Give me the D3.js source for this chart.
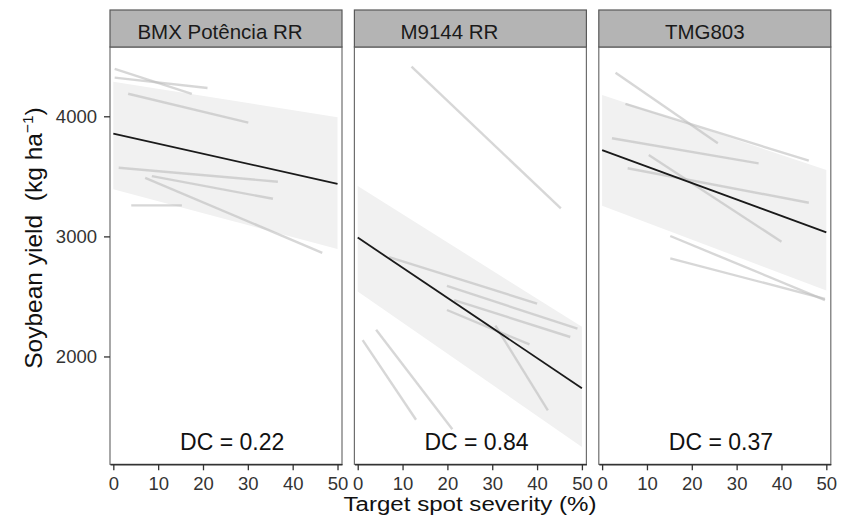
<!DOCTYPE html>
<html>
<head>
<meta charset="utf-8">
<script src="https://cdn.jsdelivr.net/npm/d3@7"></script>
<style>
  body { margin: 0; background: #fff; }
  svg { font-family: "Liberation Sans", Arial, sans-serif; }
</style>
</head>
<body>
<svg id="yieldChart" width="844" height="525"></svg>
<script>
// facets
const cultivars = ['BMX Potência RR', 'M9144 RR', 'TMG803'];
const dcValues = [0.22, 0.84, 0.37];
const xTicks = [0, 10, 20, 30, 40, 50];
const yTicks = [2000, 3000, 4000];

// overall fit, yield at severity 0 and at 50
const fitAt0 = [3855, 2990, 3719];
const fitAt50 = [3437, 1736, 3033];
// shaded band around the fit
const bandUpper0 = [4288, 3419, 4178];
const bandUpper50 = [3992, 2247, 3553];
const bandLower0 = [3392, 2540, 3255];
const bandLower50 = [2895, 1247, 2550];

// single trial fits: [severity start, yield start, severity end, yield end]
const bmxTrials = [
    [0.3, 4394, 17.5, 4186],
    [0.3, 4322, 21, 4236],
    [3.3, 4188, 30.1, 3947],
    [1.2, 3572, 36.7, 3455],
    [8.6, 3502, 35.6, 3313],
    [7.1, 3488, 46.6, 2863],
    [4, 3258, 15.3, 3258]
];
const m9144Trials = [
    [12, 4413, 45.3, 3233],
    [7, 2828, 40, 2440],
    [19.9, 2587, 49, 2232],
    [21.5, 2470, 47.4, 2162],
    [19.9, 2387, 38.3, 2100],
    [30.7, 2257, 42.4, 1551],
    [1.1, 2136, 13, 1473],
    [4.1, 2222, 21.1, 1394]
];
const tmgTrials = [
    [3, 4363, 25.8, 3775],
    [5.2, 4103, 46.1, 3630],
    [2.2, 3817, 34.9, 3608],
    [10.4, 3678, 40, 2955],
    [5.7, 3567, 46.1, 3280],
    [15.2, 3003, 49.7, 2470],
    [15.2, 2817, 49.7, 2480]
];
const trials = [bmxTrials, m9144Trials, tmgTrials];

let svg, panelW, innerH;

document.addEventListener('DOMContentLoaded', function () {
    svg = d3.select('#yieldChart');
    drawChart();
});

function drawChart()
{
    const firstLeft = 110, step = 244.4;
    const stripTop = 10, panelTop = 47, panelBottom = 464.3;
    const stripOffset = [-6, -21, -10]; // strip labels sit a bit left of centre
    panelW = 232;
    innerH = panelBottom - panelTop;

    const xScale = d3.scaleLinear().domain([-0.74, 51]).range([0, panelW]);
    const yScale = d3.scaleLinear().domain([1102, 4577]).range([innerH, 0]);

    const area = d3.area()
        .x(d => xScale(d.x))
        .y0(d => yScale(d.lo))
        .y1(d => yScale(d.hi));
    const line = d3.line()
        .x(d => xScale(d.x))
        .y(d => yScale(d.y));

    cultivars.forEach((name, i) => {
        const g = svg.append('g')
            .attr('transform', `translate(${firstLeft + i * step},${panelTop})`);

        // band
        g.append('path')
            .datum([{x: 0, lo: bandLower0[i], hi: bandUpper0[i]}, {x: 50, lo: bandLower50[i], hi: bandUpper50[i]}])
            .attr('d', area)
            .attr('fill', '#f1f1f1');

        // trial lines
        g.selectAll('line.trial')
            .data(trials[i])
            .join('line')
            .attr('class', 'trial')
            .attr('x1', d => xScale(d[0]))
            .attr('y1', d => yScale(d[1]))
            .attr('x2', d => xScale(d[2]))
            .attr('y2', d => yScale(d[3]))
            .attr('stroke', '#bdbdbd')
            .attr('stroke-opacity', 0.6)
            .attr('stroke-width', 2.4);

        // overall fit
        g.append('path')
            .datum([{x: 0, y: fitAt0[i]}, {x: 50, y: fitAt50[i]}])
            .attr('d', line)
            .attr('fill', 'none')
            .attr('stroke', '#1a1a1a')
            .attr('stroke-width', 1.8);

        g.append('text')
            .attr('x', xScale(26.5))
            .attr('y', 403)
            .attr('text-anchor', 'middle')
            .style('font-size', '23px')
            .attr('fill', '#111')
            .text('DC = ' + dcValues[i].toFixed(2));

        // panel border
        g.append('rect')
            .attr('width', panelW)
            .attr('height', innerH)
            .attr('fill', 'none')
            .attr('stroke', '#6e6e6e')
            .attr('stroke-width', 1.2);

        // x axis
        const xa = g.append('g')
            .attr('class', 'axis')
            .attr('transform', `translate(0,${innerH})`)
            .call(d3.axisBottom(xScale).tickValues(xTicks).tickSize(6).tickSizeOuter(0).tickPadding(7));
        xa.select('.domain').attr('stroke', '#333').attr('stroke-width', 1.4);
        xa.selectAll('.tick line').attr('stroke', '#333').attr('stroke-width', 1.3);

        // strip
        g.append('rect')
            .attr('y', stripTop - panelTop)
            .attr('width', panelW)
            .attr('height', panelTop - stripTop)
            .attr('fill', '#b4b4b4')
            .attr('stroke', '#595959')
            .attr('stroke-width', 1.2);
        g.append('text')
            .attr('x', panelW / 2 + stripOffset[i])
            .attr('y', 39 - panelTop)
            .attr('text-anchor', 'middle')
            .style('font-size', '20.5px')
            .attr('fill', '#1a1a1a')
            .text(name);

        if (i === 0) {
            const ya = g.append('g')
                .attr('class', 'axis')
                .call(d3.axisLeft(yScale).tickValues(yTicks).tickFormat(d3.format('d'))
                    .tickSize(6).tickSizeOuter(0).tickPadding(7));
            ya.select('.domain').remove();
            ya.selectAll('.tick line').attr('stroke', '#333').attr('stroke-width', 1.3);
        }
    });

    // tick label text, set once all axes exist
    svg.selectAll('.axis')
        .attr('font-size', null)
        .attr('font-family', null);
    svg.selectAll('.axis .tick text')
        .style('font-size', '18.5px')
        .style('font-family', '"Liberation Sans", Arial, sans-serif')
        .style('fill', '#333');

    // axis titles
    svg.append('text')
        .attr('x', 470)
        .attr('y', 511)
        .attr('text-anchor', 'middle')
        .style('font-size', '20px')
        .attr('textLength', 253)
        .attr('lengthAdjust', 'spacingAndGlyphs')
        .attr('fill', '#111')
        .text('Target spot severity (%)');

    const yt = svg.append('text')
        .attr('transform', 'translate(42,238) rotate(-90)')
        .attr('text-anchor', 'middle')
        .style('font-size', '24.5px')
        .attr('fill', '#111')
        .style('white-space', 'pre');
    yt.append('tspan').text('Soybean yield  (kg ha');
    yt.append('tspan').attr('dy', -9).style('font-size', '15.5px').text('−1');
    yt.append('tspan').attr('dy', 9).text(')');
}
</script>
</body>
</html>
